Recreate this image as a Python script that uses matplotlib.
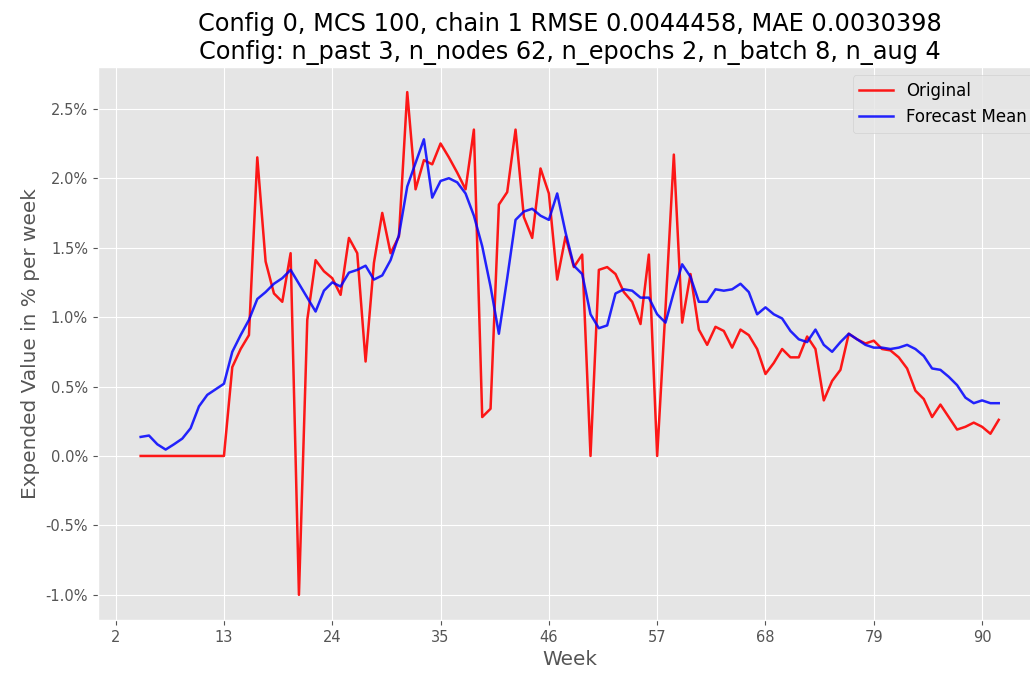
import numpy as np
import matplotlib
matplotlib.use("Agg")
import matplotlib.pyplot as plt
from matplotlib.ticker import PercentFormatter

plt.style.use("ggplot")
plt.rcParams["axes.unicode_minus"] = False

# Values in percent per week, one per sample step
original = [0, 0, 0, 0, 0, 0, 0, 0, 0, 0, 0,
            0.64, 0.77, 0.87, 2.15, 1.40, 1.17, 1.11, 1.46, -1.00, 0.98,
            1.41, 1.33, 1.28, 1.16, 1.57, 1.46, 0.68, 1.39, 1.75, 1.46,
            1.58, 2.62, 1.92, 2.13, 2.10, 2.25, 2.15, 2.04, 1.92, 2.35,
            0.28, 0.34, 1.81, 1.90, 2.35, 1.72, 1.57, 2.07, 1.89, 1.27,
            1.58, 1.36, 1.45, 0.00, 1.34, 1.36, 1.31, 1.18, 1.11, 0.95,
            1.45, 0.00, 1.06, 2.17, 0.96, 1.31, 0.91, 0.80, 0.93, 0.90,
            0.78, 0.91, 0.87, 0.77, 0.59, 0.67, 0.77, 0.71, 0.71, 0.86,
            0.77, 0.40, 0.54, 0.62, 0.88, 0.84, 0.81, 0.83, 0.77, 0.76,
            0.71, 0.63, 0.47, 0.41, 0.28, 0.37, 0.28, 0.19, 0.21, 0.24,
            0.21, 0.16, 0.26]
forecast_mean = [0.137, 0.147, 0.084, 0.046, 0.084, 0.125, 0.20, 0.357, 0.44, 0.48, 0.52,
                 0.75, 0.87, 0.98, 1.13, 1.18, 1.24, 1.28, 1.34, 1.24, 1.14,
                 1.04, 1.19, 1.25, 1.22, 1.32, 1.34, 1.37, 1.27, 1.30, 1.41,
                 1.59, 1.94, 2.11, 2.28, 1.86, 1.98, 2.00, 1.97, 1.89, 1.73,
                 1.51, 1.22, 0.88, 1.28, 1.70, 1.76, 1.78, 1.73, 1.70, 1.89,
                 1.61, 1.37, 1.31, 1.02, 0.92, 0.94, 1.17, 1.20, 1.19, 1.14,
                 1.14, 1.02, 0.96, 1.18, 1.38, 1.29, 1.11, 1.11, 1.20, 1.19,
                 1.20, 1.24, 1.18, 1.02, 1.07, 1.02, 0.99, 0.90, 0.84, 0.82,
                 0.91, 0.80, 0.75, 0.82, 0.88, 0.84, 0.80, 0.78, 0.78, 0.77,
                 0.78, 0.80, 0.77, 0.72, 0.63, 0.62, 0.57, 0.51, 0.42, 0.38,
                 0.40, 0.38, 0.38]
week_labels = [2, 13, 24, 35, 46, 57, 68, 79, 90]
tick_positions = np.arange(-3, 102, 13)

x = np.arange(len(original))

fig = plt.figure(figsize=(10.30, 6.73), dpi=100)
ax = fig.add_axes([0.0949, 0.0788, 0.9164, 0.8217])

ax.plot(x, original, color="red", alpha=0.9, lw=1.8, label="Original")
ax.plot(x, forecast_mean, color="blue", alpha=0.85, lw=1.8, label="Forecast Mean")

ax.set_xticks(tick_positions)
ax.set_xticklabels([str(w) for w in week_labels])
ax.yaxis.set_major_formatter(PercentFormatter(xmax=100, decimals=1))
ax.set_yticks([-1.0, -0.5, 0.0, 0.5, 1.0, 1.5, 2.0, 2.5])
ax.tick_params(labelsize=10.5)

ax.set_xlabel("Week", fontsize=14.4)
ax.set_ylabel("Expended Value in % per week", fontsize=14.4)
ax.set_title("Config 0, MCS 100, chain 1 RMSE 0.0044458, MAE 0.0030398\n"
             "Config: n_past 3, n_nodes 62, n_epochs 2, n_batch 8, n_aug 4",
             fontsize=17.3)
ax.legend(loc="upper right", fontsize=12)

fig.savefig("out.png", dpi=100)
